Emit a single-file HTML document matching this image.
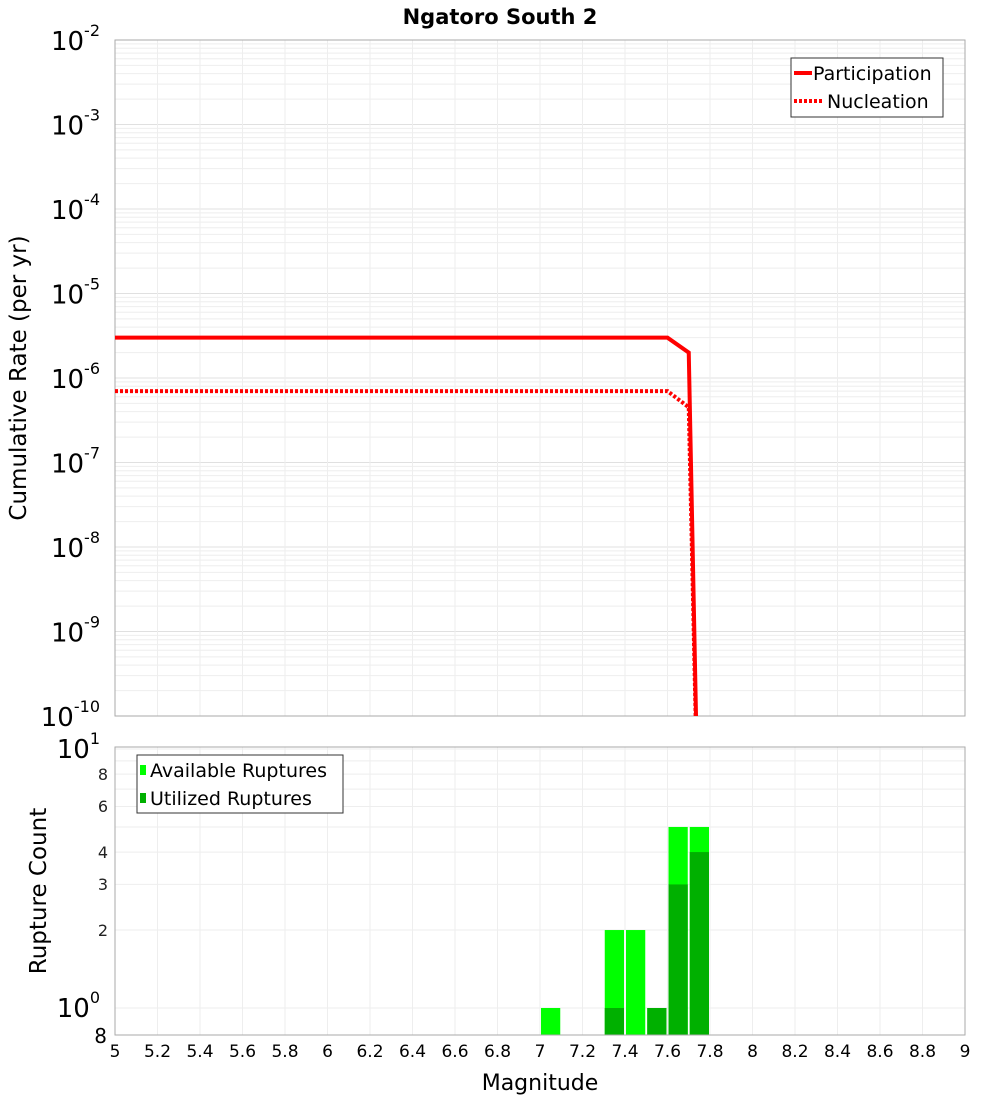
<!DOCTYPE html>
<html><head><meta charset="utf-8"><style>
body{margin:0;background:#fff;font-family:"Liberation Sans","DejaVu Sans",sans-serif}
svg text{font-family:"DejaVu Sans","Liberation Sans",sans-serif}
</style></head><body>
<svg id="c" width="1000" height="1100" xmlns="http://www.w3.org/2000/svg"></svg>
<script>
const magX=[5,7.6,7.7,7.75];
const partY=[3e-6,3e-6,2e-6,1e-12];
const nuclY=[7e-7,7e-7,4.5e-7,1e-12];
const binMags=[7.05,7.35,7.45,7.55,7.65,7.75];
const availCounts=[1,2,2,1,5,5];
const usedCounts=[0,1,0,1,3,4];
const xTicks=[5,5.2,5.4,5.6,5.8,6,6.2,6.4,6.6,6.8,7,7.2,7.4,7.6,7.8,8,8.2,8.4,8.6,8.8,9];
const topExps=[-2,-3,-4,-5,-6,-7,-8,-9,-10];
const botMinor=[6,8];
const botMid=[2,3,4];

const svg=document.getElementById('c');
const NS='http://www.w3.org/2000/svg';
function el(t,a,parent){const e=document.createElementNS(NS,t);for(const k in a)e.setAttribute(k,a[k]);(parent||svg).appendChild(e);return e;}
const L=115,R=965,T1=40,B1=716,T2=747,B2=1035;
const x=m=>L+(m-5)/(9-5)*(R-L);
const y1=v=>{const l=Math.log10(v);return T1+(-2-l)/8*(B1-T1);};
const y2=v=>{const l=Math.log10(v);return 1008-l*259;};

// title
let t=el('text',{x:500,y:24,'text-anchor':'middle','font-size':21,'font-weight':'bold'});t.textContent='Ngatoro South 2';



// top grid
const g1=el('g',{});


for(let e=-10;e<-2;e++)for(let k=1;k<10;k++){const yy=y1(k*Math.pow(10,e));el('line',{x1:L,x2:R,y1:yy,y2:yy,stroke:k==1?'#e0e0e0':'#eeeeee','stroke-width':1},g1);}
xTicks.forEach(m=>el('line',{x1:x(m),x2:x(m),y1:T1,y2:B1,stroke:'#eeeeee'},g1));
let f1=el('rect',{x:L,y:T1,width:R-L,height:B1-T1,fill:'none',stroke:'#aaa'});



// top y labels
topExps.forEach(e=>{const yy=y1(Math.pow(10,e));const tx=el('text',{x:100,y:yy+10,'text-anchor':'end','font-size':26});
tx.textContent='10';const s=el('tspan',{dy:-14,'font-size':16},tx);s.textContent=String(e);

});
t=el('text',{x:26,y:378,'text-anchor':'middle','font-size':23,transform:'rotate(-90 26 378)'});t.textContent='Cumulative Rate (per yr)';



// lines
const clip=el('clipPath',{id:'cp'});el('rect',{x:L,y:T1,width:R-L,height:B1-T1},clip);
function path(xs,ys){return xs.map((m,i)=>(i?'L':'M')+x(m)+','+y1(ys[i])).join(' ');}
let p=el('path',{d:path(magX,partY),stroke:'#ff0000','stroke-width':4,fill:'none','clip-path':'url(#cp)'});


p=el('path',{d:path(magX,nuclY),stroke:'#ff0000','stroke-width':4,'stroke-dasharray':'3,2',fill:'none','clip-path':'url(#cp)'});



// top legend
const lg=el('g',{});


el('rect',{x:791,y:58,width:152,height:59,fill:'#fff',stroke:'#333'},lg);
el('line',{x1:794,x2:812,y1:73,y2:73,stroke:'#f00','stroke-width':4},lg);
el('line',{x1:794,x2:822,y1:101,y2:101,stroke:'#f00','stroke-width':4,'stroke-dasharray':'3,2'},lg);
t=el('text',{x:813,y:80,'font-size':19},lg);t.textContent='Participation';
t=el('text',{x:827,y:108,'font-size':19},lg);t.textContent='Nucleation';

// bottom grid
const g2=el('g',{});


for(let k=1;k<=10;k++){const yy=y2(k);el('line',{x1:L,x2:R,y1:yy,y2:yy,stroke:'#eeeeee'},g2);}
xTicks.forEach(m=>el('line',{x1:x(m),x2:x(m),y1:T2,y2:B2,stroke:'#eeeeee'},g2));

// bars
binMags.forEach((m,i)=>{const x0=x(m-0.05)+1,w=x(m+0.05)-x(m-0.05)-2;
if(availCounts[i]>0){const r=el('rect',{x:x0,y:y2(availCounts[i]),width:w,height:B2-y2(availCounts[i]),fill:'#00ff00'});

}
if(usedCounts[i]>0){const r=el('rect',{x:x0,y:y2(usedCounts[i]),width:w,height:B2-y2(usedCounts[i]),fill:'#00b000'});

}
});
let f2=el('rect',{x:L,y:T2,width:R-L,height:B2-T2,fill:'none',stroke:'#aaa'});



// bottom y labels
function lbl(v,txt,fs){const tx=el('text',{x:108,y:y2(v)+fs*0.36,'text-anchor':'end','font-size':fs,fill:'#222'});tx.textContent=txt;

return tx;}
botMinor.forEach(v=>lbl(v,String(v),16));
botMid.forEach(v=>lbl(v,String(v),16));
let tx=el('text',{x:100,y:y2(10)+9,'text-anchor':'end','font-size':26});tx.textContent='10';el('tspan',{dy:-14,'font-size':16},tx).textContent='1';


tx=el('text',{x:100,y:y2(1)+9,'text-anchor':'end','font-size':26});tx.textContent='10';el('tspan',{dy:-14,'font-size':16},tx).textContent='0';


tx=el('text',{x:107,y:1043,'text-anchor':'end','font-size':20});tx.textContent='8';


t=el('text',{x:46,y:891,'text-anchor':'middle','font-size':23,transform:'rotate(-90 46 891)'});t.textContent='Rupture Count';



// bottom legend
const lg2=el('g',{});


el('rect',{x:137,y:755,width:206,height:58,fill:'#fff',stroke:'#333'},lg2);
el('rect',{x:140,y:765,width:6,height:10,fill:'#00ff00'},lg2);
el('rect',{x:140,y:793,width:6,height:10,fill:'#00b000'},lg2);
t=el('text',{x:150,y:777,'font-size':19},lg2);t.textContent='Available Ruptures';
t=el('text',{x:150,y:805,'font-size':19},lg2);t.textContent='Utilized Ruptures';

// x labels
xTicks.forEach(m=>{const tx=el('text',{x:x(m),y:1057,'text-anchor':'middle','font-size':17});tx.textContent=String(m);

});
t=el('text',{x:540,y:1090,'text-anchor':'middle','font-size':22});t.textContent='Magnitude';


</script>
</body></html>
